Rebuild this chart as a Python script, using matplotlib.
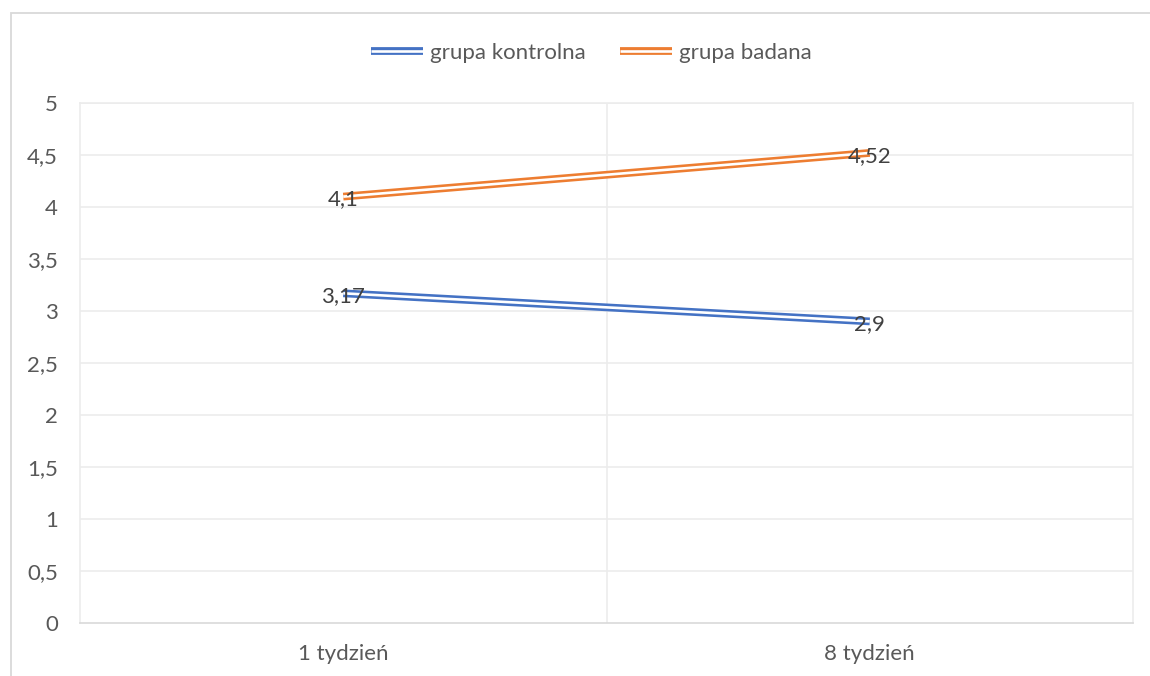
import matplotlib.pyplot as plt
import matplotlib.patheffects as pe
from matplotlib.patches import Rectangle

# dane z wykresu
kategorie = ['1 tydzień', '8 tydzień']
grupa_kontrolna = [3.17, 2.9]
grupa_badana = [4.1, 4.52]
etykiety_y = ['0', '0,5', '1', '1,5', '2', '2,5', '3', '3,5', '4', '4,5', '5']

plt.rcParams['font.family'] = ['Lato', 'DejaVu Sans']

fig = plt.figure(figsize=(11.5, 6.76), dpi=100)
ax = fig.add_axes([80 / 1150, 1 - 623 / 676, (1133 - 80) / 1150, (623 - 103) / 676])

# ramka wykresu
fig.patches.append(Rectangle((11 / 1150, -0.1), 1.2, 1 - 13 / 676 + 0.1,
                             transform=fig.transFigure, fill=False,
                             edgecolor='#d9d9d9', linewidth=1.3))

serie = [('grupa kontrolna', grupa_kontrolna, '#4472c4'),
         ('grupa badana', grupa_badana, '#ed7d31')]
x = list(range(len(kategorie)))
for nazwa, wartosci, kolor in serie:
    ax.plot(x, wartosci, color=kolor, label=nazwa, solid_capstyle='butt', zorder=3,
            path_effects=[pe.Stroke(linewidth=5.6, foreground=kolor, capstyle='butt'),
                          pe.Stroke(linewidth=1.9, foreground='white', capstyle='butt')])
    for xi, v in zip(x, wartosci):
        ax.annotate(f'{v:g}'.replace('.', ','), (xi, v), xytext=(0, -2),
                    textcoords='offset points', ha='center', va='center',
                    fontsize=16, color='#404040', zorder=5)

ax.set_xlim(-0.5, 1.5)
ax.set_ylim(0, 5)
ax.set_yticks([i * 0.5 for i in range(11)])
ax.set_yticklabels(etykiety_y)
ax.set_xticks(x)
ax.set_xticklabels(kategorie)
ax.tick_params(length=0, labelsize=16, colors='#595959')
ax.tick_params(axis='y', pad=16)
ax.tick_params(axis='x', pad=15)

for yv in ax.get_yticks()[1:]:
    ax.axhline(yv, color='#ececec', linewidth=1.2, zorder=1)
ax.axvline(0.5, color='#ececec', linewidth=1.2, zorder=1)

for s in ['top', 'right', 'left']:
    ax.spines[s].set_color('#ececec')
    ax.spines[s].set_linewidth(1.2)
ax.spines['bottom'].set_color('#d9d9d9')
ax.spines['bottom'].set_linewidth(1.2)

leg = fig.legend(loc='center', bbox_to_anchor=(591 / 1150, 1 - 53 / 676), ncol=2,
                 frameon=False, fontsize=16, handlelength=2.35, handletextpad=0.3,
                 columnspacing=1.55)
for t in leg.get_texts():
    t.set_color('#595959')

fig.savefig('out.png', dpi=100)
